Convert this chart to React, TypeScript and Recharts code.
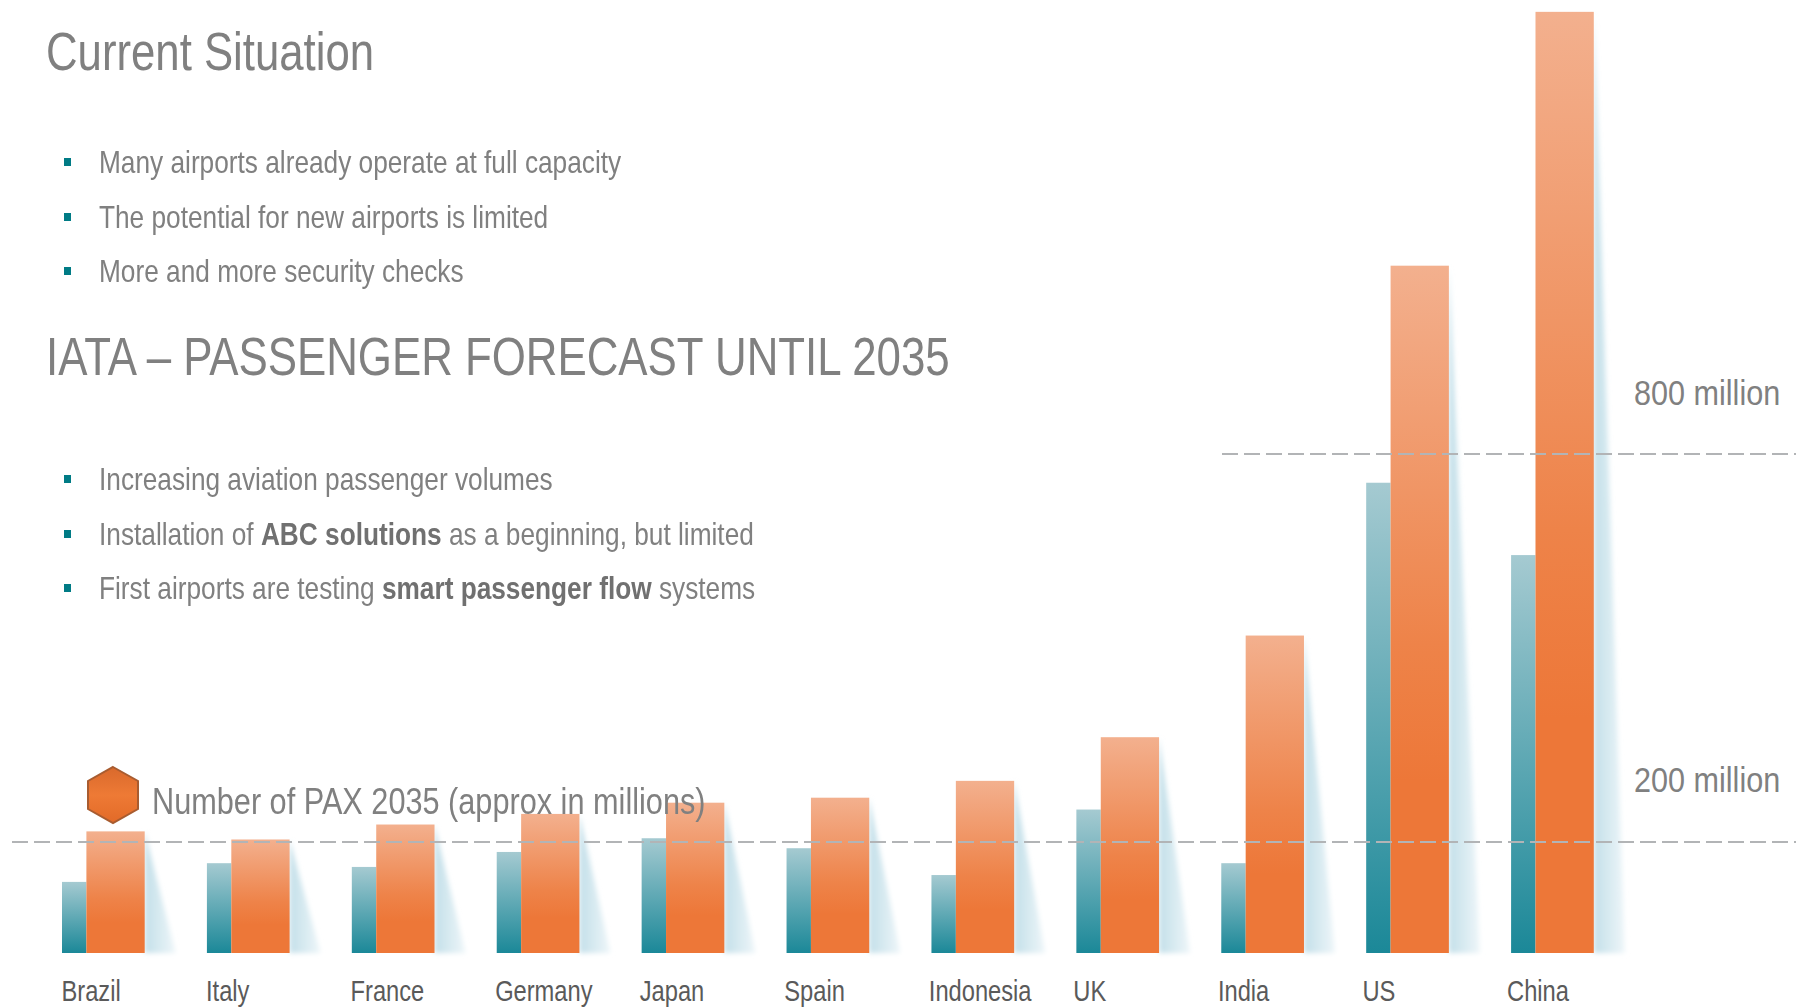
import React from 'react';
import { BarChart, Bar, XAxis, YAxis, ReferenceLine } from 'recharts';

// ─── Data ─────────────────────────────────────────────────────────────────────

const countries = ['Brazil', 'Italy', 'France', 'Germany', 'Japan', 'Spain', 'Indonesia', 'UK', 'India', 'US', 'China'];
const paxToday = [114, 144, 138, 162, 184, 168, 125, 230, 144, 754, 638];
const pax2035 = [195, 182, 206, 223, 241, 249, 276, 346, 509, 1102, 1509];

const situationBullets = [
  'Many airports already operate at full capacity',
  'The potential for new airports is limited',
  'More and more security checks',
];

const chartData = countries.map((name, i) => ({ name, today: paxToday[i], future: pax2035[i] }));

const SANS = '"Liberation Sans", Arial, sans-serif';
const GREY = '#808080';

// ─── Shapes ───────────────────────────────────────────────────────────────────

function TealBar({ x, y, width, height }: any) {
  return <rect x={x} y={y} width={width} height={height} fill="url(#tealGrad)" />;
}

function OrangeBar({ x, y, width, height }: any) {
  const right = x + width;
  const base = y + height;
  return (
    <g>
      <polygon
        points={`${right},${y} ${right + 31},${base} ${right},${base}`}
        fill="url(#wedgeGrad)"
        filter="url(#soft)"
      />
      <rect x={x} y={y} width={width} height={height} fill="url(#orangeGrad)" />
    </g>
  );
}

function CountryTick({ x, y, payload, index }: any) {
  return (
    <text
      transform={`translate(${x - 42 - index * 0.35},${y + 39.5}) scale(0.79,1)`}
      fontFamily={SANS}
      fontSize={30}
      fill="#5a5a5a"
    >
      {payload.value}
    </text>
  );
}

function LevelLine({ x2, y, from, label }: any) {
  return (
    <g>
      <line x1={from} x2={x2 - 6} y1={y} y2={y} stroke="#b2b4b6" strokeWidth={2} strokeDasharray="16 6" />
      <text
        transform={`translate(${x2 - 168},${y - 49.5}) scale(0.85,1)`}
        fontFamily={SANS}
        fontSize={36}
        fill={GREY}
      >
        {label}
      </text>
    </g>
  );
}

function Squeezed({ left, top, size, squeeze = 0.82, children }: any) {
  return (
    <div
      style={{
        position: 'absolute',
        left,
        top,
        fontSize: size,
        lineHeight: '60px',
        whiteSpace: 'nowrap',
        transform: `scaleX(${squeeze})`,
        transformOrigin: 'left center',
      }}
    >
      {children}
    </div>
  );
}

function Bullet({ top, children }: any) {
  return (
    <>
      <span style={{ position: 'absolute', left: 64, top: top + 26, width: 7, height: 8, background: '#007b85' }} />
      <Squeezed left={99} top={top} size={32}>{children}</Squeezed>
    </>
  );
}

// ─── App ──────────────────────────────────────────────────────────────────────

export default function App() {
  return (
    <div style={{ position: 'absolute', left: 0, top: 0, width: 1802, height: 1007, background: '#fff', overflow: 'hidden', fontFamily: SANS, color: GREY }}>
      <BarChart
        width={1802}
        height={1007}
        data={chartData}
        margin={{ top: 0, right: 0, bottom: 0, left: 0 }}
        barGap={0}
      >
        <defs>
          <linearGradient id="orangeGrad" x1="0" y1="0" x2="0" y2="1">
            <stop offset="0%" stopColor="#f3b08e" />
            <stop offset="55%" stopColor="#ee8349" />
            <stop offset="75%" stopColor="#ed7738" />
            <stop offset="100%" stopColor="#ed7738" />
          </linearGradient>
          <linearGradient id="tealGrad" x1="0" y1="0" x2="0" y2="1">
            <stop offset="0%" stopColor="#a5cad1" />
            <stop offset="100%" stopColor="#1b8898" />
          </linearGradient>
          <linearGradient id="wedgeGrad" x1="0" y1="0" x2="1" y2="0">
            <stop offset="0%" stopColor="#c3dfe9" />
            <stop offset="100%" stopColor="#eef6f9" />
          </linearGradient>
          <filter id="soft" x="-30%" y="-5%" width="160%" height="110%">
            <feGaussianBlur stdDeviation="2.5" />
          </filter>
        </defs>

        <XAxis
          dataKey="name"
          height={54}
          axisLine={false}
          tickLine={false}
          interval={0}
          padding={{ left: 31, right: 177 }}
          tick={<CountryTick />}
        />
        <YAxis hide domain={[0, 1528]} />

        <Bar dataKey="today" barSize={24.4} shape={<TealBar />} isAnimationActive={false} />
        <Bar dataKey="future" barSize={58.3} shape={<OrangeBar />} isAnimationActive={false} />

        <ReferenceLine y={178} shape={(p: any) => <LevelLine x2={p.x2} y={p.y1} from={12} label="200 million" />} />
        <ReferenceLine y={800} shape={(p: any) => <LevelLine x2={p.x2} y={p.y1} from={1222} label="800 million" />} />
      </BarChart>

      <Squeezed left={46} top={22} size={53} squeeze={0.825}>Current Situation</Squeezed>
      {situationBullets.map((t, i) => (
        <Bullet key={t} top={132 + i * 54.5}>{t}</Bullet>
      ))}

      <Squeezed left={46} top={327} size={53} squeeze={0.827}>IATA – PASSENGER FORECAST UNTIL 2035</Squeezed>
      <Bullet top={449}>Increasing aviation passenger volumes</Bullet>
      <Bullet top={503.5}>Installation of <b style={{ color: '#707070' }}>ABC solutions</b> as a beginning, but limited</Bullet>
      <Bullet top={558}>First airports are testing <b style={{ color: '#707070' }}>smart passenger flow</b> systems</Bullet>

      <svg style={{ position: 'absolute', left: 85, top: 764 }} width={56} height={62}>
        <defs>
          <linearGradient id="hexGrad" x1="0" y1="0" x2="0" y2="1">
            <stop offset="0%" stopColor="#d9692c" />
            <stop offset="50%" stopColor="#ee7a35" />
            <stop offset="100%" stopColor="#e26a28" />
          </linearGradient>
        </defs>
        <polygon points="28,3 53,17 53,45 28,59 3,45 3,17" fill="url(#hexGrad)" stroke="#a85c30" strokeWidth={2} />
      </svg>
      <Squeezed left={152} top={772} size={37} squeeze={0.829}>Number of PAX 2035 (approx in millions)</Squeezed>
    </div>
  );
}
